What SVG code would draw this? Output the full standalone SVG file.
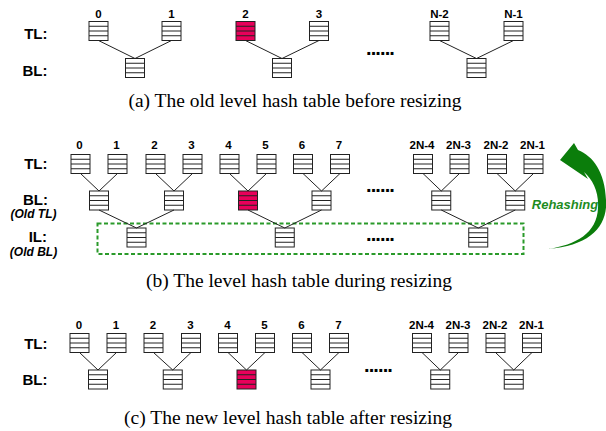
<svg xmlns="http://www.w3.org/2000/svg" xmlns:xlink="http://www.w3.org/1999/xlink" width="606" height="431" viewBox="0 0 606 431">
<style>
.bk{fill:#fff;stroke:#222;stroke-width:1}
.rd{fill:#e8005a;stroke:#222;stroke-width:1}
.num{font-family:"Liberation Sans",Arial,sans-serif;font-weight:bold;font-size:11.5px;text-anchor:middle;fill:#000}
.row{font-family:"Liberation Sans",Arial,sans-serif;font-weight:bold;font-size:15px;text-anchor:end;fill:#000}
.sub{font-family:"Liberation Sans",Arial,sans-serif;font-weight:bold;font-style:italic;font-size:12px;text-anchor:middle;fill:#000}
.dots{font-family:"Liberation Sans",Arial,sans-serif;font-weight:bold;font-size:20px;letter-spacing:-0.9px;fill:#000}
.cap{font-family:"Liberation Serif","Times New Roman",serif;font-size:18px;fill:#000}
.conn line{stroke:#222;stroke-width:1}
</style>
<defs>
<g id="b"><rect width="19" height="19"/><path d="M0 4.75H19M0 9.5H19M0 14.25H19"/></g>
</defs>
<rect width="606" height="431" fill="#fff"/>

<!-- (a) -->
<text class="row" x="47.5" y="39">TL:</text>
<text class="row" x="47.5" y="76">BL:</text>
<g id="a-tl0"><text class="num" x="98.5" y="17.5">0</text><use href="#b" class="bk" x="89" y="21.5"/></g>
<g id="a-tl1"><text class="num" x="171.5" y="17.5">1</text><use href="#b" class="bk" x="162" y="21.5"/></g>
<g id="a-tl2"><text class="num" x="245.5" y="17.5">2</text><use href="#b" class="rd" x="236" y="21.5"/></g>
<g id="a-tl3"><text class="num" x="319" y="17.5">3</text><use href="#b" class="bk" x="309.5" y="21.5"/></g>
<g id="a-tl4"><text class="num" x="439.5" y="17.5">N-2</text><use href="#b" class="bk" x="430" y="21.5"/></g>
<g id="a-tl5"><text class="num" x="513.5" y="17.5">N-1</text><use href="#b" class="bk" x="504" y="21.5"/></g>
<g id="a-bl0"><use href="#b" class="bk" x="125.5" y="58.5"/></g>
<g id="a-bl1"><use href="#b" class="bk" x="272.5" y="58.5"/></g>
<g id="a-bl2"><use href="#b" class="bk" x="467" y="58.5"/></g>
<text class="dots" x="366" y="54.5">......</text>
<text class="cap" x="128.5" y="107" textLength="333" lengthAdjust="spacingAndGlyphs">(a) The old level hash table before resizing</text>

<!-- (b) -->
<text class="row" x="47.5" y="169">TL:</text>
<text class="row" x="48" y="205">BL:</text>
<text class="sub" x="33.5" y="218">(Old TL)</text>
<text class="row" x="47" y="242">IL:</text>
<text class="sub" x="33.5" y="255.5">(Old BL)</text>
<rect id="il-box" x="97.5" y="223.5" width="426" height="30.5" fill="none" stroke="#2a9a2a" stroke-width="2" stroke-dasharray="4,2.5"/>
<g id="b-tl0"><text class="num" x="79.5" y="149">0</text><use href="#b" class="bk" x="71" y="154.5"/></g>
<g id="b-tl1"><text class="num" x="116.5" y="149">1</text><use href="#b" class="bk" x="108" y="154.5"/></g>
<g id="b-tl2"><text class="num" x="154.5" y="149">2</text><use href="#b" class="bk" x="146" y="154.5"/></g>
<g id="b-tl3"><text class="num" x="191.5" y="149">3</text><use href="#b" class="bk" x="183" y="154.5"/></g>
<g id="b-tl4"><text class="num" x="228.5" y="149">4</text><use href="#b" class="bk" x="220" y="154.5"/></g>
<g id="b-tl5"><text class="num" x="265.5" y="149">5</text><use href="#b" class="bk" x="257" y="154.5"/></g>
<g id="b-tl6"><text class="num" x="302" y="149">6</text><use href="#b" class="bk" x="293.5" y="154.5"/></g>
<g id="b-tl7"><text class="num" x="339" y="149">7</text><use href="#b" class="bk" x="330.5" y="154.5"/></g>
<g id="b-tl8"><text class="num" x="422" y="149">2N-4</text><use href="#b" class="bk" x="413.5" y="154.5"/></g>
<g id="b-tl9"><text class="num" x="458.5" y="149">2N-3</text><use href="#b" class="bk" x="450" y="154.5"/></g>
<g id="b-tl10"><text class="num" x="496" y="149">2N-2</text><use href="#b" class="bk" x="487.5" y="154.5"/></g>
<g id="b-tl11"><text class="num" x="532.5" y="149">2N-1</text><use href="#b" class="bk" x="524" y="154.5"/></g>
<g id="b-bl0"><use href="#b" class="bk" x="89.5" y="191"/></g>
<g id="b-bl1"><use href="#b" class="bk" x="164.5" y="191"/></g>
<g id="b-bl2"><use href="#b" class="rd" x="238.5" y="191"/></g>
<g id="b-bl3"><use href="#b" class="bk" x="312" y="191"/></g>
<g id="b-bl4"><use href="#b" class="bk" x="431.75" y="191"/></g>
<g id="b-bl5"><use href="#b" class="bk" x="505.75" y="191"/></g>
<g id="b-il0"><use href="#b" class="bk" x="127" y="228"/></g>
<g id="b-il1"><use href="#b" class="bk" x="275.25" y="228"/></g>
<g id="b-il2"><use href="#b" class="bk" x="468.75" y="228"/></g>
<text class="dots" x="366" y="191.5">......</text>
<text class="dots" x="366" y="240.5">......</text>
<g id="rehash">
<path d="M560,160 L574,143 L578,150 C593,156 605,172 606,200 C608,226 590,246 548,249 C576,245 597,233 598,208 C599,192 593,180 584,172 L588,179 Z" fill="#0b7d0b"/>
<text x="565" y="208.5" text-anchor="middle" font-family="'Liberation Sans',Arial,sans-serif" font-weight="bold" font-style="italic" font-size="13px" fill="#1e8c1e">Rehashing</text>
</g>
<text class="cap" x="146" y="287" textLength="306" lengthAdjust="spacingAndGlyphs">(b) The level hash table during resizing</text>

<!-- (c) -->
<text class="row" x="47.5" y="349">TL:</text>
<text class="row" x="47.5" y="385">BL:</text>
<g id="c-tl0"><text class="num" x="79" y="329">0</text><use href="#b" class="bk" x="70" y="333.5"/></g>
<g id="c-tl1"><text class="num" x="116" y="329">1</text><use href="#b" class="bk" x="107" y="333.5"/></g>
<g id="c-tl2"><text class="num" x="153" y="329">2</text><use href="#b" class="bk" x="144" y="333.5"/></g>
<g id="c-tl3"><text class="num" x="190.5" y="329">3</text><use href="#b" class="bk" x="181.5" y="333.5"/></g>
<g id="c-tl4"><text class="num" x="227.5" y="329">4</text><use href="#b" class="bk" x="218.5" y="333.5"/></g>
<g id="c-tl5"><text class="num" x="264.5" y="329">5</text><use href="#b" class="bk" x="255.5" y="333.5"/></g>
<g id="c-tl6"><text class="num" x="301.5" y="329">6</text><use href="#b" class="bk" x="292.5" y="333.5"/></g>
<g id="c-tl7"><text class="num" x="338.5" y="329">7</text><use href="#b" class="bk" x="329.5" y="333.5"/></g>
<g id="c-tl8"><text class="num" x="421.5" y="329">2N-4</text><use href="#b" class="bk" x="412.5" y="333.5"/></g>
<g id="c-tl9"><text class="num" x="458" y="329">2N-3</text><use href="#b" class="bk" x="449" y="333.5"/></g>
<g id="c-tl10"><text class="num" x="495" y="329">2N-2</text><use href="#b" class="bk" x="486" y="333.5"/></g>
<g id="c-tl11"><text class="num" x="531.5" y="329">2N-1</text><use href="#b" class="bk" x="522.5" y="333.5"/></g>
<g id="c-bl0"><use href="#b" class="bk" x="88.5" y="370"/></g>
<g id="c-bl1"><use href="#b" class="bk" x="163.25" y="370"/></g>
<g id="c-bl2"><use href="#b" class="rd" x="237" y="370"/></g>
<g id="c-bl3"><use href="#b" class="bk" x="311" y="370"/></g>
<g id="c-bl4"><use href="#b" class="bk" x="430.75" y="370"/></g>
<g id="c-bl5"><use href="#b" class="bk" x="504.25" y="370"/></g>
<text class="dots" x="364" y="371.5">......</text>
<text class="cap" x="124" y="424" textLength="328" lengthAdjust="spacingAndGlyphs">(c) The new level hash table after resizing</text>

<g id="connectors" class="conn">
<line x1="98.5" y1="40.5" x2="135" y2="58.5"/><line x1="171.5" y1="40.5" x2="135" y2="58.5"/>
<line x1="245.5" y1="40.5" x2="282" y2="58.5"/><line x1="319" y1="40.5" x2="282" y2="58.5"/>
<line x1="439.5" y1="40.5" x2="476.5" y2="58.5"/><line x1="513.5" y1="40.5" x2="476.5" y2="58.5"/>

<line x1="80.5" y1="173.5" x2="99" y2="191"/><line x1="117.5" y1="173.5" x2="99" y2="191"/>
<line x1="155.5" y1="173.5" x2="174" y2="191"/><line x1="192.5" y1="173.5" x2="174" y2="191"/>
<line x1="229.5" y1="173.5" x2="248" y2="191"/><line x1="266.5" y1="173.5" x2="248" y2="191"/>
<line x1="303" y1="173.5" x2="321.5" y2="191"/><line x1="340" y1="173.5" x2="321.5" y2="191"/>
<line x1="423" y1="173.5" x2="441.25" y2="191"/><line x1="459.5" y1="173.5" x2="441.25" y2="191"/>
<line x1="497" y1="173.5" x2="515.25" y2="191"/><line x1="533.5" y1="173.5" x2="515.25" y2="191"/>
<line x1="99" y1="210" x2="136.5" y2="228"/><line x1="174" y1="210" x2="136.5" y2="228"/>
<line x1="248" y1="210" x2="284.75" y2="228"/><line x1="321.5" y1="210" x2="284.75" y2="228"/>
<line x1="441.25" y1="210" x2="478.25" y2="228"/><line x1="515.25" y1="210" x2="478.25" y2="228"/>

<line x1="79.5" y1="352.5" x2="98" y2="370"/><line x1="116.5" y1="352.5" x2="98" y2="370"/>
<line x1="153.5" y1="352.5" x2="172.75" y2="370"/><line x1="191" y1="352.5" x2="172.75" y2="370"/>
<line x1="228" y1="352.5" x2="246.5" y2="370"/><line x1="265" y1="352.5" x2="246.5" y2="370"/>
<line x1="302" y1="352.5" x2="320.5" y2="370"/><line x1="339" y1="352.5" x2="320.5" y2="370"/>
<line x1="422" y1="352.5" x2="440.25" y2="370"/><line x1="458.5" y1="352.5" x2="440.25" y2="370"/>
<line x1="495.5" y1="352.5" x2="513.75" y2="370"/><line x1="532" y1="352.5" x2="513.75" y2="370"/>
</g>
</svg>
